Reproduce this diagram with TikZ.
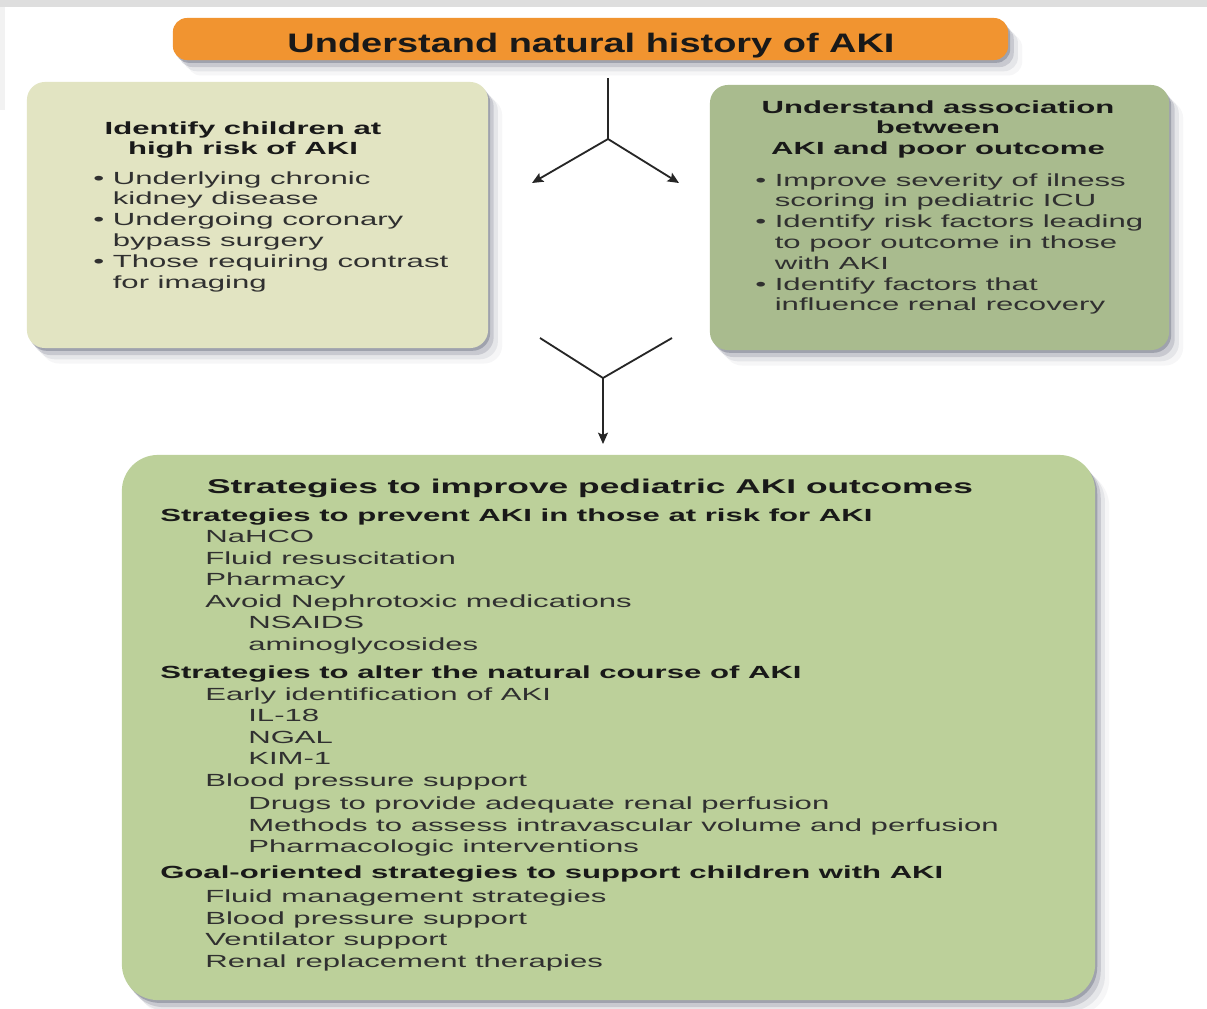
\documentclass[tikz,border=0pt]{standalone}
\usepackage{fontspec}
\setmainfont{Liberation Sans}[FakeStretch=1.77]
\newfontfamily\titlefont{Liberation Sans}[FakeStretch=1.42]
\usetikzlibrary{arrows.meta,shadows}

\definecolor{akiorange}{RGB}{241,148,48}
\definecolor{riskfill}{RGB}{226,228,194}
\definecolor{assocfill}{RGB}{169,187,142}
\definecolor{stratfill}{RGB}{188,208,154}
\definecolor{shadowc}{RGB}{85,90,110}
\definecolor{inkgray}{RGB}{48,48,48}

\tikzset{
  softshadow/.style={
    general shadow={shadow xshift=1.5pt, shadow yshift=-2pt, fill=shadowc, opacity=.35},
    general shadow={shadow xshift=4pt, shadow yshift=-5pt, fill=shadowc, opacity=.2},
    general shadow={shadow xshift=7pt, shadow yshift=-8pt, fill=shadowc, opacity=.1},
    general shadow={shadow xshift=10pt, shadow yshift=-11pt, fill=shadowc, opacity=.05}},
  panel/.style={softshadow, rounded corners=0.45cm, inner sep=0pt},
  bodytxt/.style={font=\fontsize{12.5}{14.8}\selectfont, text=inkgray, inner sep=0pt, align=left},
  headtxt/.style={font=\fontsize{12.5}{14.6}\selectfont\bfseries, text=black!90, inner sep=0pt, align=center},
  flow/.style={line width=1.3pt, draw=black!85},
  flowtip/.style={-{Stealth[length=8pt, width=7pt, inset=1.5pt]}}
}

\newlength\lvlone
\setlength\lvlone{1.125cm}
\newlength\lvltwo
\setlength\lvltwo{2.2cm}

\begin{document}
\begin{tikzpicture}[x=0.025cm, y=-0.025cm]
\useasboundingbox (0,0) rectangle (1207,1008);
\fill[white] (0,0) rectangle (1207,1008);
\fill[black!13] (0,0) rectangle (1207,7);
\fill[black!5] (0,7) rectangle (5,110);

% boxes
\node[panel, fill=akiorange, rounded corners=0.35cm, minimum width=20.875cm, minimum height=1.05cm] (history) at (590.5,39) {};
\node[panel, fill=riskfill, minimum width=11.525cm, minimum height=6.65cm] (riskbox) at (257.5,215) {};
\node[panel, fill=assocfill, minimum width=11.475cm, minimum height=6.625cm] (assocbox) at (939.5,217.5) {};
\node[panel, fill=stratfill, rounded corners=0.9cm, minimum width=24.325cm, minimum height=13.625cm] (stratbox) at (608.5,727.5) {};

% title text
\node[font=\titlefont\bfseries\fontsize{19}{21}\selectfont, text=black!90, inner sep=0pt, anchor=base] (historytext) at (591,52) {Understand natural history of AKI};

% left box text
\node[headtxt, anchor=north] (riskhead) at (243,121) {Identify children at\\high risk of AKI};
\node[bodytxt, anchor=north west] (risklist) at (93,171) {%
\textbullet\ Underlying chronic\\
\phantom{\textbullet\ }kidney disease\\
\textbullet\ Undergoing coronary\\
\phantom{\textbullet\ }bypass surgery\\
\textbullet\ Those requiring contrast\\
\phantom{\textbullet\ }for imaging};

% right box text
\node[headtxt, anchor=north] (assochead) at (938,100) {Understand association\\between\\AKI and poor outcome};
\node[bodytxt, anchor=north west] (assoclist) at (755,173) {%
\textbullet\ Improve severity of ilness\\
\phantom{\textbullet\ }scoring in pediatric ICU\\
\textbullet\ Identify risk factors leading\\
\phantom{\textbullet\ }to poor outcome in those\\
\phantom{\textbullet\ }with AKI\\
\textbullet\ Identify factors that\\
\phantom{\textbullet\ }influence renal recovery};

% bottom box text
\node[font=\fontsize{14.2}{16}\selectfont\bfseries, text=black!90, inner sep=0pt, anchor=base] (strathead) at (590,493) {Strategies to improve pediatric AKI outcomes};
\node[bodytxt, font=\fontsize{12.5}{15.3}\selectfont, anchor=north west] (stratlist) at (160,508) {%
\textbf{\color{black!90}Strategies to prevent AKI in those at risk for AKI}\\
\hspace*{\lvlone}NaHCO\\
\hspace*{\lvlone}Fluid resuscitation\\
\hspace*{\lvlone}Pharmacy\\
\hspace*{\lvlone}Avoid Nephrotoxic medications\\
\hspace*{\lvltwo}NSAIDS\\
\hspace*{\lvltwo}aminoglycosides\\[5pt]
\textbf{\color{black!90}Strategies to alter the natural course of AKI}\\
\hspace*{\lvlone}Early identification of AKI\\
\hspace*{\lvltwo}IL-18\\
\hspace*{\lvltwo}NGAL\\
\hspace*{\lvltwo}KIM-1\\
\hspace*{\lvlone}Blood pressure support\\[1.5pt]
\hspace*{\lvltwo}Drugs to provide adequate renal perfusion\\
\hspace*{\lvltwo}Methods to assess intravascular volume and perfusion\\
\hspace*{\lvltwo}Pharmacologic interventions\\[3pt]
\textbf{\color{black!90}Goal-oriented strategies to support children with AKI}\\[2pt]
\hspace*{\lvlone}Fluid management strategies\\
\hspace*{\lvlone}Blood pressure support\\
\hspace*{\lvlone}Ventilator support\\
\hspace*{\lvlone}Renal replacement therapies};

% connectors
\coordinate (stem) at (608,78);
\coordinate (fork) at (608,139);
\coordinate (torisk) at (532,183);
\coordinate (toassoc) at (679,183);
\coordinate (fromrisk) at (540,338);
\coordinate (fromassoc) at (672,338);
\coordinate (merge) at (603,378);
\coordinate (tostrat) at (603,444);
\draw[flow] (stem) -- (fork);
\draw[flow, flowtip] (fork) -- (torisk);
\draw[flow, flowtip] (fork) -- (toassoc);
\draw[flow] (fromrisk) -- (merge);
\draw[flow] (fromassoc) -- (merge);
\draw[flow, flowtip] (merge) -- (tostrat);
\end{tikzpicture}
\end{document}
